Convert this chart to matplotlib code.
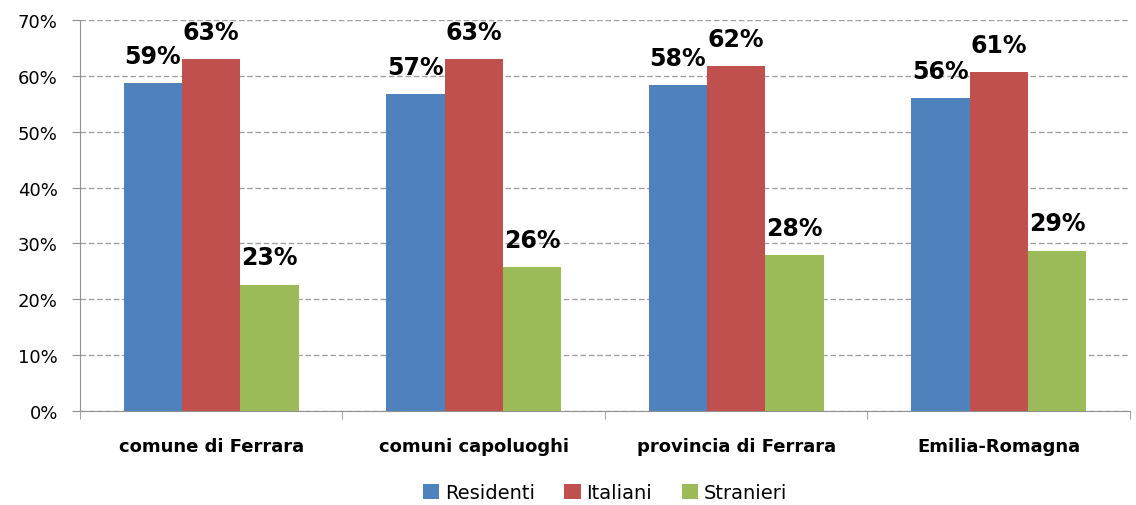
import numpy as np
import matplotlib.pyplot as plt

## Data
categories = ['comune di Ferrara', 'comuni capoluoghi', 'provincia di Ferrara', 'Emilia-Romagna']
series_names = ['Residenti', 'Italiani', 'Stranieri']
residenti = [58.7, 56.7, 58.4, 56.0]
italiani = [63.0, 63.0, 61.8, 60.7]
stranieri = [22.6, 25.8, 27.9, 28.7]
colors = ['#4f81bd', '#c0504d', '#9bbb59']

plt.rcParams['font.family'] = ['DejaVu Sans']

fig = plt.figure(figsize=(11.36, 5.06), dpi=100)
ax = fig.add_axes([0.0704, 0.1858, 0.9243, 0.7727])

x = np.arange(len(categories))
width = 1 / 4.5
for i, (vals, name) in enumerate(zip([residenti, italiani, stranieri], series_names)):
    pos = x + (i - 1) * width
    ax.bar(pos, vals, width, color=colors[i], label=name, zorder=3)
    for p, v in zip(pos, vals):
        ax.annotate(f'{v:.0f}%', (p, v), xytext=(0, 11), textcoords='offset points',
                    ha='center', va='bottom', fontsize=17, fontweight='bold')

ax.set_xlim(-0.5, len(categories) - 0.5)
ax.set_ylim(0, 70)
ax.set_yticks(np.arange(0, 71, 10))
ax.set_yticklabels([f'{t}%' for t in range(0, 71, 10)], fontsize=13)
ax.yaxis.grid(True, linestyle=(0, (4, 2)), color='#a0a0a0', linewidth=1, zorder=0)

ax.set_xticks(x)
ax.set_xticklabels(categories, fontsize=13, fontweight='bold')
ax.tick_params(axis='x', length=0, pad=19)
ax.set_xticks(np.arange(-0.5, len(categories) + 0.5, 1), minor=True)
ax.tick_params(axis='x', which='minor', length=6, color='#909090', direction='out')
ax.tick_params(axis='y', length=6, color='#909090', pad=10)

for s in ['top', 'right']:
    ax.spines[s].set_visible(False)
for s in ['left', 'bottom']:
    ax.spines[s].set_color('#909090')

ax.legend(loc='upper center', bbox_to_anchor=(0.5, -0.15), ncol=3, frameon=False,
          fontsize=14, handlelength=0.85, handleheight=0.85, handletextpad=0.3,
          columnspacing=1.5, borderpad=0.2)

fig.savefig('out.png', dpi=100)
